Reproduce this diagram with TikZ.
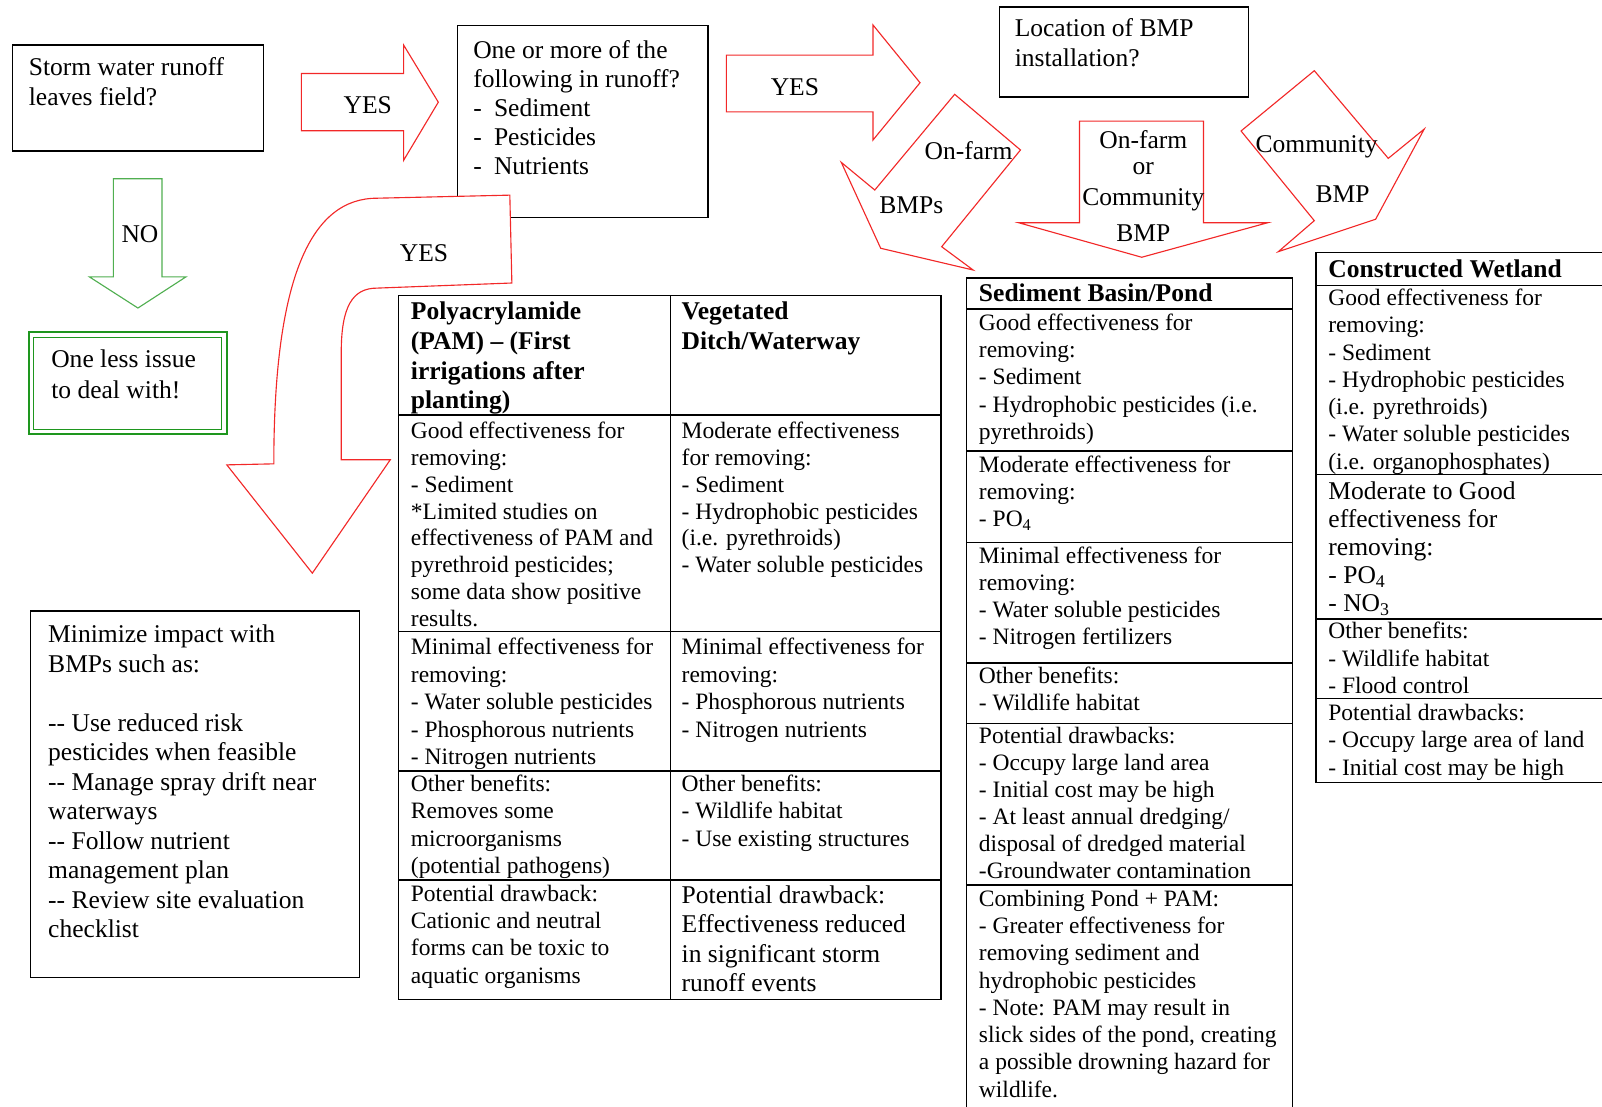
\documentclass[tikz,border=0pt]{standalone}
\usepackage{fontspec}
\setmainfont{LiberationSerif}[Extension=.ttf, UprightFont=*-Regular, BoldFont=*-Bold, ItalicFont=*-Italic, BoldItalicFont=*-BoldItalic]
\definecolor{arrred}{RGB}{242,40,40}
\definecolor{boxgreen}{RGB}{30,150,30}
\definecolor{arrgreen}{RGB}{80,175,80}
\newcommand{\celltxt}[1]{\begin{tabular}[t]{@{}l@{}}#1\end{tabular}}
\tikzset{
 frame/.style={draw=black, line width=1.4pt},
 redarrow/.style={draw=arrred, line width=1.1pt, fill=white, line join=miter},
 greenarrow/.style={draw=arrgreen, line width=1.1pt, fill=white},
 lbl/.style={inner sep=0pt, font=\fontsize{25}{29}\selectfont},
 tsmall/.style={anchor=base west, inner sep=0pt, font=\fontsize{23}{#1}\selectfont},
 tbig/.style={anchor=base west, inner sep=0pt, font=\fontsize{25}{#1}\selectfont},
 thead/.style={anchor=base west, inner sep=0pt, font=\fontsize{25}{29}\selectfont\bfseries},
}
\begin{document}
\begin{tikzpicture}[x=1pt,y=-1pt]
\useasboundingbox (0,0) rectangle (1568,1083);
\clip (0,0) rectangle (1568,1083);

% ---------- boxes ----------
\draw[frame] (12,44) rectangle (258,148);
\node[tbig=29.4] (qA) at (28,73.5) {\celltxt{Storm water runoff\\leaves field?}};

\draw[frame] (448,25) rectangle (693,213);
\node[tbig=28.4] (qB) at (463,57) {\celltxt{One or more of the\\following in runoff?\\-\hspace{12pt}Sediment\\-\hspace{12pt}Pesticides\\-\hspace{12pt}Nutrients}};

\draw[frame] (978,7) rectangle (1222,95);
\node[tbig=29.4] (qC) at (993,36) {\celltxt{Location of BMP\\installation?}};

\draw[draw=boxgreen, line width=2pt] (28,325) rectangle (222,425);
\draw[draw=boxgreen, line width=0.9pt] (33,330) rectangle (217,420);
\node[tbig=30] (end) at (50,360) {\celltxt{One less issue\\to deal with!}};

\draw[frame] (30,598) rectangle (352,957);
\node[tbig=28.9] (mini) at (47,629) {\celltxt{Minimize impact with\\BMPs such as:\\ \\-{}- Use reduced risk\\pesticides when feasible\\-{}- Manage spray drift near\\waterways\\-{}- Follow nutrient\\management plan\\-{}- Review site evaluation\\checklist}};

% ---------- arrows ----------
\draw[redarrow] (295,72) -- (395,72) -- (395,44) -- (429,100) -- (395,157) -- (395,128) -- (295,128) -- cycle;
\node[lbl] (yes1) at (360,103) {YES};

\draw[greenarrow] (111,175) -- (158.5,175) -- (158.5,271) -- (182,271) -- (135,301.5) -- (87.5,271) -- (111,271) -- cycle;
\node[lbl] (no) at (137,229) {NO};

\draw[redarrow] (711,54) -- (854.5,54) -- (854.5,24.5) -- (900.5,81) -- (854.5,137) -- (854.5,109.5) -- (711,109.5) -- cycle;
\node[lbl] (yes2) at (778,85) {YES};

\draw[redarrow] (499,191) -- (501,277) -- (369,282) .. controls (345,282) and (334,300) .. (334,345) -- (334,450) -- (382,450) -- (305.7,561) -- (222,455) -- (268,454) .. controls (268,270) and (305,194) .. (369,194) -- cycle;
\node[lbl] (yes3) at (415,248) {YES};

\draw[redarrow] (934.4,92.3) -- (998.8,146.8) -- (921.7,241.5) -- (952.5,264.3) -- (862,243) -- (823.4,158.9) -- (856.2,186) -- cycle;
\node[lbl] (onfarm) at (948,147) {On-farm};
\node[lbl] (bmps) at (892,201) {BMPs};

\draw[redarrow] (1056.6,118.5) -- (1178,118.5) -- (1178,218) -- (1240.8,218) -- (1117.5,251.8) -- (997,218) -- (1056.6,218) -- cycle;
\node[lbl] (m1) at (1119,137) {On-farm};
\node[lbl] (m2) at (1119,165.5) {or};
\node[lbl] (m3) at (1119,196) {Community};
\node[lbl] (m4) at (1119,228) {BMP};

\draw[redarrow] (1286.4,69.2) -- (1358.8,155) -- (1394,126.3) -- (1346.4,214.6) -- (1251.2,246.3) -- (1286.4,216) -- (1214.7,128.2) -- cycle;
\node[lbl] (comm) at (1288.7,144) {Community};
\node[lbl] (cbmp) at (1314,190) {BMP};

% ---------- PAM / Vegetated table ----------
\draw[frame] (390,289) rectangle (921,978);
\draw[frame] (656,289) -- (656,978);
\foreach \yy in {406,618.3,754.6,861.3} \draw[frame] (390,\yy) -- (921,\yy);
\node[thead] (pamh) at (402,313.2) {\celltxt{Polyacrylamide\\(PAM) -- (First\\irrigations after\\planting)}};
\node[thead] (vegh) at (667,313.2) {\celltxt{Vegetated\\Ditch/Waterway}};
\node[tsmall=26.35] (pam1) at (402,429) {\celltxt{Good effectiveness for\\removing:\\- Sediment\\{*}Limited studies on\\effectiveness of PAM and\\pyrethroid pesticides;\\some data show positive\\results.}};
\node[tsmall=26.35] (veg1) at (667,429) {\celltxt{Moderate effectiveness\\for removing:\\- Sediment\\- Hydrophobic pesticides\\(i.e. pyrethroids)\\- Water soluble pesticides}};
\node[tsmall=26.8] (pam2) at (402,641) {\celltxt{Minimal effectiveness for\\removing:\\- Water soluble pesticides\\- Phosphorous nutrients\\- Nitrogen nutrients}};
\node[tsmall=26.8] (veg2) at (667,641) {\celltxt{Minimal effectiveness for\\removing:\\- Phosphorous nutrients\\- Nitrogen nutrients}};
\node[tsmall=26.6] (pam3) at (402,775) {\celltxt{Other benefits:\\Removes some\\microorganisms\\(potential pathogens)}};
\node[tsmall=26.6] (veg3) at (667,775) {\celltxt{Other benefits:\\- Wildlife habitat\\- Use existing structures}};
\node[tsmall=26.6] (pam4) at (402,882.5) {\celltxt{Potential drawback:\\Cationic and neutral\\forms can be toxic to\\aquatic organisms}};
\node[tbig=28.8] (veg4) at (667,884) {\celltxt{Potential drawback:\\Effectiveness reduced\\in significant storm\\runoff events}};

% ---------- Sediment Basin table ----------
\draw[frame] (946,272) rectangle (1265,1100);
\foreach \yy in {302.5,441.5,531,649,708,866} \draw[frame] (946,\yy) -- (1265,\yy);
\node[thead] (sedh) at (958,295) {Sediment Basin/Pond};
\node[tsmall=26.8] (sed1) at (958,323) {\celltxt{Good effectiveness for\\removing:\\- Sediment\\- Hydrophobic pesticides (i.e.\\pyrethroids)}};
\node[tsmall=26.6] (sed2) at (958,462) {\celltxt{Moderate effectiveness for\\removing:\\- PO\textsubscript{4}}};
\node[tsmall=26.2] (sed3) at (958,552) {\celltxt{Minimal effectiveness for\\removing:\\- Water soluble pesticides\\- Nitrogen fertilizers}};
\node[tsmall=26.2] (sed4) at (958,669) {\celltxt{Other benefits:\\- Wildlife habitat}};
\node[tsmall=26.4] (sed5) at (958,728) {\celltxt{Potential drawbacks:\\- Occupy large land area\\- Initial cost may be high\\- At least annual dredging/\\disposal of dredged material\\-Groundwater contamination}};
\node[tsmall=26.7] (sed6) at (958,887) {\celltxt{Combining Pond + PAM:\\- Greater effectiveness for\\removing sediment and\\hydrophobic pesticides\\- Note: PAM may result in\\slick sides of the pond, creating\\a possible drowning hazard for\\wildlife.}};

% ---------- Constructed Wetland table ----------
\draw[frame] (1600,247.3) -- (1288,247.3) -- (1288,766) -- (1600,766);
\foreach \yy in {279.3,464.3,605.9,683.5} \draw[frame] (1288,\yy) -- (1600,\yy);
\node[thead] (weth) at (1300,272) {Constructed Wetland};
\node[tsmall=26.7] (wet1) at (1300,299) {\celltxt{Good effectiveness for\\removing:\\- Sediment\\- Hydrophobic pesticides\\(i.e. pyrethroids)\\- Water soluble pesticides\\(i.e. organophosphates)}};
\node[tbig=27.5] (wet2) at (1300,489) {\celltxt{Moderate to Good\\effectiveness for\\removing:\\- PO\textsubscript{4}\\- NO\textsubscript{3}}};
\node[tsmall=27] (wet3) at (1300,625) {\celltxt{Other benefits:\\- Wildlife habitat\\- Flood control}};
\node[tsmall=27] (wet4) at (1300,705) {\celltxt{Potential drawbacks:\\- Occupy large area of land\\- Initial cost may be high}};
\end{tikzpicture}
\end{document}
